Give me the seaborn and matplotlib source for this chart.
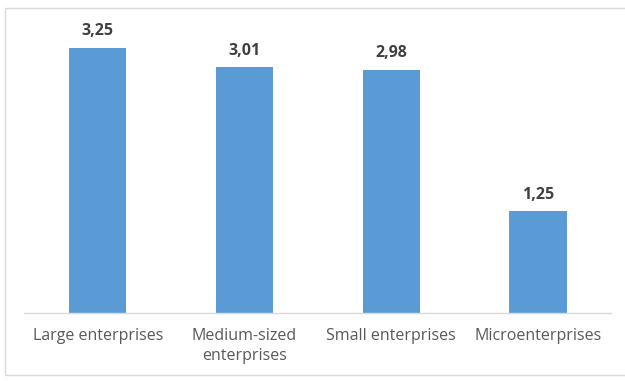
import matplotlib
matplotlib.use("Agg")
import matplotlib.pyplot as plt
import seaborn as sns
import pandas as pd
from matplotlib.patches import Rectangle

categories = ["Large enterprises", "Medium-sized\nenterprises", "Small enterprises", "Microenterprises"]
values = [3.25, 3.01, 2.98, 1.25]
value_labels = ["3,25", "3,01", "2,98", "1,25"]

df = pd.DataFrame({"cat": categories, "val": values})

sns.set_style("white")
plt.rcParams['font.family'] = ['Open Sans', 'DejaVu Sans']

fig = plt.figure(figsize=(6.25, 3.81), dpi=100)
ax = fig.add_axes([0.039, 0.1785, 0.939, 0.75])
sns.barplot(data=df, x="cat", y="val", color="#5B9BD5", saturation=1, width=0.39,
            linewidth=0, ax=ax)
ax.set_ylim(0, 3.5)
ax.set_xlim(-0.5, 3.5)
for p, lab in zip(ax.patches, value_labels):
    ax.annotate(lab, (p.get_x() + p.get_width() / 2, p.get_height()),
                xytext=(0, 6), textcoords="offset points", ha="center", va="bottom",
                fontsize=11.5, fontweight="bold", color="#404040")
for s in ["top", "right", "left"]:
    ax.spines[s].set_visible(False)
ax.spines["bottom"].set_color("#D9D9D9")
ax.spines["bottom"].set_linewidth(1)
ax.set_yticks([])
ax.set_xlabel("")
ax.set_ylabel("")
ax.tick_params(axis="x", length=0, labelsize=11.5, labelcolor="#595959", pad=11)
for t in ax.get_xticklabels():
    t.set_linespacing(1.35)
fig.patches.append(Rectangle((5 / 625, 6 / 381), 1.0, 1 - 14 / 381, transform=fig.transFigure,
                             fill=False, edgecolor="#D9D9D9", linewidth=1))
fig.savefig("out.png", dpi=100)
